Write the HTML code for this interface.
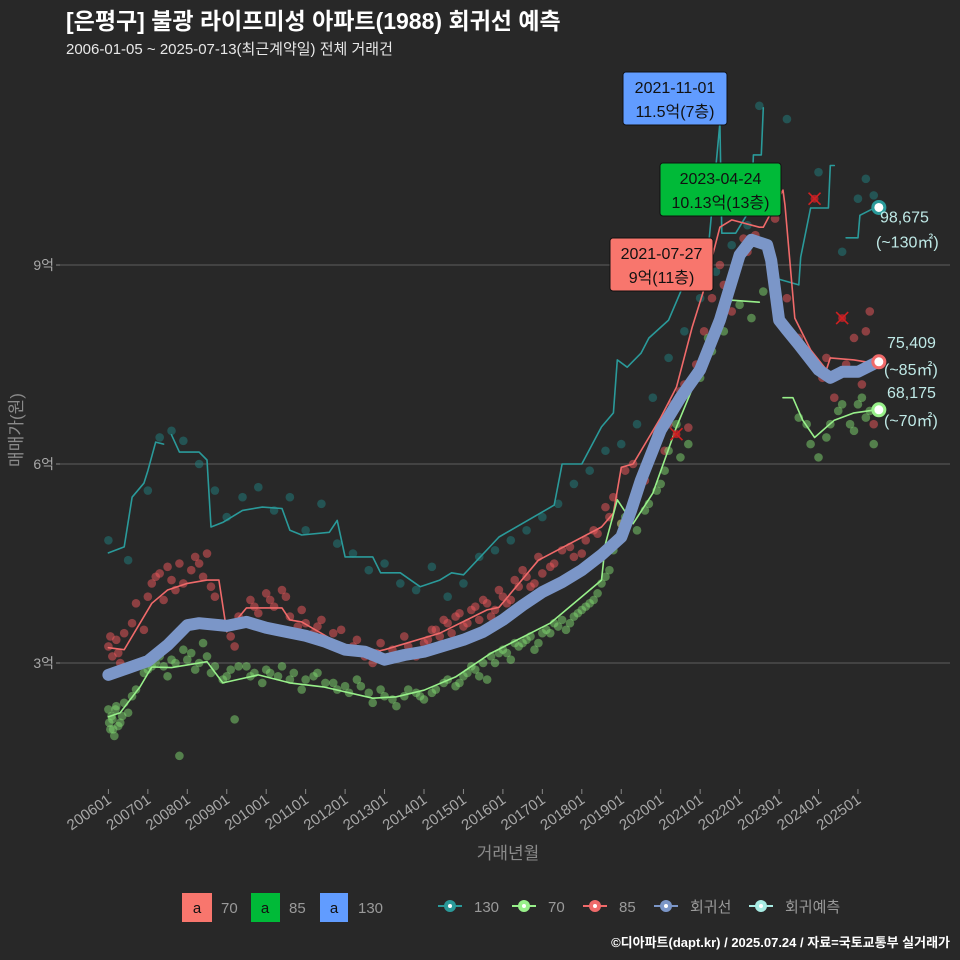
<!DOCTYPE html>
<html><head><meta charset="utf-8">
<style>
html,body{margin:0;padding:0;background:#282828;}
svg{display:block;font-family:"Liberation Sans","Noto Sans CJK KR",sans-serif;}
</style></head>
<body>
<svg id="chart" width="960" height="960" viewBox="0 0 960 960">
<rect x="0" y="0" width="960" height="960" fill="#282828"/>
<text x="66" y="29" font-size="23" font-weight="bold" fill="#ffffff">[은평구] 불광 라이프미성 아파트(1988) 회귀선 예측</text>
<text x="66" y="54" font-size="15" fill="#e8e8e8">2006-01-05 ~ 2025-07-13(최근계약일) 전체 거래건</text>
<g id="grid"></g>
<g id="yaxis"></g>
<g id="xaxis"></g>
<g id="points"></g>
<g id="lines"></g>
<g id="marks"></g>
<text transform="translate(22,430) rotate(-90)" text-anchor="middle" font-size="17" fill="#8a8a8a">매매가(원)</text>
<text x="508" y="859" text-anchor="middle" font-size="17" fill="#8a8a8a">거래년월</text>
<g font-size="15" fill="#9a9a9a">
 <rect x="182" y="893" width="30" height="29" fill="#f8766d"/>
 <text x="197" y="913" text-anchor="middle" fill="#111">a</text>
 <text x="221" y="913">70</text>
 <rect x="251" y="893" width="29" height="29" fill="#00ba38"/>
 <text x="265" y="913" text-anchor="middle" fill="#111">a</text>
 <text x="289" y="913">85</text>
 <rect x="320" y="893" width="28" height="29" fill="#619cff"/>
 <text x="334" y="913" text-anchor="middle" fill="#111">a</text>
 <text x="358" y="913">130</text>
</g>
<g id="legend2" font-size="15" fill="#9a9a9a"></g>
<text x="950" y="947" text-anchor="end" font-size="13" font-weight="bold" fill="#ffffff">©디아파트(dapt.kr) / 2025.07.24 / 자료=국토교통부 실거래가</text>
</svg>
<script>
// ---- data (year as decimal, value in 억) ----
const xTickLabels = ["200601","200701","200801","200901","201001","201101","201201","201301","201401","201501","201601","201701","201801","201901","202001","202101","202201","202301","202401","202501"];
const yTickValues = [3,6,9];
const yTickLabels = ["3억","6억","9억"];
const regYears = [2006.0,2007.0,2007.5,2008.0,2008.3,2009.0,2009.5,2010.0,2011.0,2011.5,2012.0,2012.5,2013.0,2013.5,2014.0,2015.0,2015.5,2016.0,2016.5,2017.0,2017.5,2018.0,2018.5,2019.0,2019.25,2019.5,2020.0,2020.5,2021.0,2021.5,2022.0,2022.3,2022.7,2022.8,2023.0,2023.2,2023.5,2024.0,2024.3,2024.6,2025.0,2025.5];
const regValues = [2.82,3.03,3.27,3.57,3.6,3.56,3.62,3.53,3.41,3.32,3.2,3.17,3.05,3.12,3.17,3.35,3.47,3.65,3.87,4.07,4.22,4.4,4.63,4.9,5.3,5.76,6.51,7.0,7.42,8.17,9.15,9.38,9.3,9.07,8.17,8.02,7.8,7.42,7.3,7.39,7.39,7.54];
const l85Years = [2006.0,2006.4,2007.1,2007.5,2008.0,2008.5,2008.8,2009.0,2009.5,2010.4,2010.6,2010.9,2012.0,2012.6,2013.0,2014.4,2015.6,2015.9,2016.9,2018.5,2018.8,2019.0,2019.3,2020.0,2020.4,2020.8,2021.07,2021.5,2021.8,2022.5,2022.6,2023.1,2023.15,2023.4,2023.8,2024.2,2024.3,2024.9,2025.4];
const l85Values = [3.23,3.2,3.9,4.1,4.2,4.25,4.25,3.47,3.83,3.83,3.65,3.62,3.24,3.15,3.2,3.45,3.8,3.84,4.55,5.05,5.26,5.95,6.0,6.7,7.16,8.07,8.58,9.57,9.68,9.57,9.57,10.13,9.9,8.2,7.72,7.42,7.6,7.57,7.52];
const l70Years = [2006.0,2006.3,2006.8,2007.1,2007.6,2008.5,2008.9,2009.8,2010.6,2011.45,2012.7,2013.3,2014.0,2014.8,2015.7,2017.2,2018.5,2018.6,2018.9,2019.3,2019.8,2020.4,2021.0,2021.4,2021.8,2022.5];
const l70Values = [2.19,2.25,2.64,2.94,2.93,3.02,2.7,2.82,2.7,2.64,2.47,2.49,2.59,2.79,3.15,3.6,4.25,4.8,5.46,5.1,5.56,6.56,7.42,8.17,8.47,8.44];
const l70bYears = [2023.1,2023.35,2023.6,2023.9,2024.4,2024.9,2025.5];
const l70bValues = [7.0,7.0,6.66,6.4,6.66,6.77,6.82];
const l130aYears = [2006.0,2006.4,2006.6,2006.9,2007.0,2007.2,2007.4];
const l130aValues = [4.66,4.75,5.5,5.71,5.9,6.33,6.3];
const l130bYears = [2007.6,2007.8,2008.3,2008.5,2008.6,2008.9,2009.4,2009.9,2010.4,2010.6,2010.9,2011.6,2011.8,2012.0,2012.7,2012.9,2013.4,2013.9,2014.4,2014.7,2015.0,2015.9,2017.3,2017.5,2018.0,2018.5,2018.8,2018.9,2019.15,2019.5,2019.7,2020.2,2020.6,2021.2,2021.5,2021.55,2021.9,2022.3,2022.35,2022.55,2022.6];
const l130bValues = [6.44,6.18,6.18,6.06,5.05,5.12,5.3,5.35,5.33,5.0,4.93,4.97,5.15,4.6,4.6,4.36,4.36,4.15,4.25,4.36,4.33,4.9,5.38,6.0,6.0,6.56,6.77,7.57,7.46,7.67,7.9,8.17,8.73,9.2,11.14,9.48,9.48,9.87,10.66,10.66,11.37];
const l130cYears = [2022.8,2023.5,2023.55,2023.8,2024.25,2024.3,2024.4];
const l130cValues = [8.82,8.7,9.12,9.86,9.86,10.5,10.5];
const l130dYears = [2024.7,2025.0,2025.05,2025.45];
const l130dValues = [9.41,9.41,9.75,9.87];
const p85Years = [2006.0,2006.1,2006.2,2006.3,2006.4,2006.6,2006.7,2006.9,2007.1,2007.2,2007.4,2007.5,2007.7,2007.8,2007.9,2008.1,2008.2,2008.4,2008.5,2008.7,2009.1,2009.2,2009.4,2009.6,2009.8,2010.0,2010.2,2010.4,2010.6,2010.8,2011.0,2011.2,2011.4,2011.6,2011.9,2012.1,2012.3,2012.5,2012.7,2012.9,2013.2,2013.5,2013.8,2014.1,2014.3,2014.5,2014.7,2014.9,2015.1,2015.3,2015.5,2015.7,2015.9,2016.1,2016.3,2016.5,2016.7,2016.9,2017.2,2017.5,2017.8,2018.1,2018.3,2018.6,2018.8,2019.1,2019.3,2019.6,2019.9,2020.1,2020.3,2020.5,2020.7,2020.9,2021.1,2021.3,2021.5,2021.8,2022.1,2022.4,2022.9,2023.2,2023.5,2023.8,2024.1,2024.4,2024.7,2025.0,2025.2,2025.3,2025.4];
const p85Values = [3.25,3.1,3.35,3.0,3.45,3.6,3.9,3.5,4.2,4.3,3.95,4.45,4.1,4.5,4.2,4.4,4.6,4.3,4.65,4.0,3.4,3.25,3.6,3.95,3.75,4.05,3.85,4.1,3.7,3.55,3.6,3.45,3.65,3.3,3.5,3.2,3.35,3.1,3.0,3.3,3.2,3.4,3.1,3.35,3.5,3.65,3.45,3.75,3.6,3.85,3.95,3.7,4.1,3.9,4.25,4.4,4.15,4.6,4.45,4.7,4.6,4.85,5.0,5.35,5.5,5.9,6.0,5.75,6.45,6.2,6.9,7.1,6.55,7.5,8.0,8.5,9.0,8.3,9.4,9.45,9.7,8.5,7.9,7.6,7.3,7.0,7.5,7.4,8.0,8.3,6.6];
const p85bYears = [2006.05,2006.25,2007.0,2007.3,2007.6,2008.3,2008.6,2009.3,2009.7,2010.1,2010.5,2010.9,2011.3,2011.7,2012.2,2012.8,2013.1,2013.6,2014.0,2014.2,2014.4,2014.6,2014.8,2015.0,2015.2,2015.4,2015.6,2015.8,2016.0,2016.2,2016.4,2016.6,2016.8,2017.0,2017.3,2017.7,2018.0,2018.4,2018.7,2019.0,2019.5,2020.2,2020.6,2021.2,2021.6,2022.2,2023.6,2024.2,2024.9,2025.1];
const p85bValues = [3.4,3.15,4.0,4.35,4.25,4.5,4.15,3.7,3.85,3.95,4.0,3.8,3.55,3.45,3.25,3.15,3.05,3.25,3.3,3.5,3.4,3.6,3.7,3.55,3.8,3.65,3.9,3.8,4.0,3.95,4.15,4.3,4.2,4.35,4.5,4.75,4.65,4.95,5.2,5.1,5.7,6.6,7.2,7.7,8.7,9.2,7.7,7.6,7.9,7.2];
const p70Years = [2006.0,2006.05,2006.1,2006.15,2006.2,2006.3,2006.4,2006.5,2006.7,2006.9,2007.1,2007.3,2007.5,2007.7,2007.9,2008.0,2008.2,2008.4,2008.5,2008.6,2008.9,2009.1,2009.3,2009.6,2009.9,2010.1,2010.4,2010.6,2010.9,2011.2,2011.5,2011.8,2012.1,2012.4,2012.7,2013.0,2013.3,2013.6,2013.9,2014.2,2014.5,2014.8,2015.0,2015.3,2015.6,2015.9,2016.2,2016.5,2016.8,2017.0,2017.3,2017.6,2017.9,2018.2,2018.5,2018.7,2019.0,2019.3,2019.6,2019.9,2020.1,2020.4,2020.7,2021.0,2021.3,2021.6,2022.0,2022.3,2022.6,2023.5,2023.8,2024.0,2024.3,2024.6,2024.9,2025.1,2025.3,2025.4,2007.8,2009.2];
const p70Values = [2.3,2.0,2.15,1.9,2.35,2.1,2.4,2.25,2.6,2.85,2.95,3.1,2.8,3.0,3.2,3.05,2.9,3.3,3.1,2.85,2.75,2.9,2.95,2.8,2.7,2.85,2.95,2.75,2.6,2.8,2.7,2.6,2.55,2.65,2.4,2.5,2.35,2.6,2.5,2.55,2.7,2.65,2.8,2.9,2.75,3.15,3.05,3.3,3.2,3.45,3.6,3.5,3.75,3.9,4.2,4.4,5.1,5.4,5.3,5.6,5.9,6.6,6.3,7.3,7.7,8.0,8.4,8.2,8.6,6.7,6.3,6.1,6.6,6.9,6.5,7.0,6.8,6.3,1.6,2.15];
const p70bYears = [2006.02,2006.08,2006.12,2006.18,2006.25,2006.35,2006.6,2007.0,2007.2,2007.4,2007.6,2008.1,2008.3,2008.7,2009.0,2009.5,2009.7,2010.0,2010.3,2010.7,2011.0,2011.3,2011.7,2012.0,2012.3,2012.6,2012.9,2013.2,2013.5,2013.8,2014.0,2014.3,2014.6,2014.9,2015.1,2015.2,2015.4,2015.5,2015.7,2015.8,2016.0,2016.1,2016.3,2016.4,2016.6,2016.7,2016.9,2017.1,2017.2,2017.4,2017.5,2017.7,2017.8,2018.0,2018.1,2018.3,2018.4,2018.6,2018.8,2019.1,2019.4,2019.7,2020.0,2020.2,2020.5,2021.2,2023.7,2024.2,2024.5,2024.8,2025.0,2025.2];
const p70bValues = [2.1,2.2,2.0,2.3,2.05,2.2,2.5,2.9,3.0,2.95,3.05,3.15,3.0,2.95,2.8,2.95,2.85,2.9,2.8,2.85,2.75,2.85,2.7,2.65,2.75,2.55,2.6,2.45,2.5,2.55,2.45,2.6,2.75,2.7,2.85,2.95,2.8,3.0,3.1,3.0,3.2,3.15,3.3,3.25,3.35,3.4,3.3,3.5,3.45,3.55,3.65,3.6,3.7,3.8,3.85,3.95,4.05,4.3,4.7,5.2,5.0,5.4,5.7,6.2,6.1,7.9,6.6,6.4,6.8,6.6,6.9,6.7];
const p130Years = [2006.0,2006.5,2007.0,2007.3,2007.6,2007.9,2008.3,2008.7,2009.0,2009.4,2009.8,2010.2,2010.6,2011.0,2011.4,2011.8,2012.2,2012.6,2013.0,2013.4,2013.8,2014.2,2014.6,2015.0,2015.4,2015.8,2016.2,2016.6,2017.0,2017.4,2017.8,2018.2,2018.6,2019.0,2019.4,2019.8,2020.2,2020.6,2021.0,2021.4,2021.8,2022.2,2022.5,2023.2,2024.0,2024.6,2025.0,2025.2,2025.4];
const p130Values = [4.85,4.55,5.6,6.4,6.5,6.35,6.0,5.6,5.2,5.5,5.65,5.3,5.5,5.0,5.4,4.8,4.65,4.4,4.5,4.2,4.1,4.45,4.0,4.2,4.6,4.7,4.85,5.0,5.2,5.4,5.7,5.9,6.2,6.3,6.6,7.0,7.6,8.0,8.5,8.9,9.3,9.6,11.4,11.2,10.4,9.2,10.0,10.3,10.05];
const endValues = [9.8675,7.5409,6.8175];
const endLabels = ["98,675","75,409","68,175"];
const endSizes = ["(~130㎡)","(~85㎡)","(~70㎡)"];

// ---- scales ----
const X0 = 108.4, XS = 39.45, Y3 = 663, YS = 66.33;
function xs(yr){ return X0 + (yr - 2006) * XS; }
function ys(v){ return Y3 - (v - 3) * YS; }
const NS = "http://www.w3.org/2000/svg";
function mk(tag, attrs, parent){ const e = document.createElementNS(NS, tag); for (const k in attrs) e.setAttribute(k, attrs[k]); parent.appendChild(e); return e; }

const grid = document.getElementById('grid');
const yax = document.getElementById('yaxis');
yTickValues.forEach((v,i)=>{
  const l = mk('line',{x1:60,x2:950,y1:ys(v),y2:ys(v),stroke:'#5e5e5e','stroke-width':1},grid);
  
  
  const t = mk('line',{x1:56,x2:60,y1:ys(v),y2:ys(v),stroke:'#888'},yax);
  
  
  const tx = mk('text',{x:54,y:ys(v)+5,'text-anchor':'end','font-size':14,fill:'#a8a8a8'},yax);
  tx.textContent = yTickLabels[i];
  
  
});
const xax = document.getElementById('xaxis');
xTickLabels.forEach((lab,i)=>{
  const x = xs(2006+i);
  const t = mk('line',{x1:x,x2:x,y1:789,y2:794,stroke:'#888'},xax);
  
  
  const tx = mk('text',{transform:`translate(${x+4},${802}) rotate(-35)`,'text-anchor':'end','font-size':15,fill:'#a8a8a8'},xax);
  tx.textContent = lab;
  
  
});

// scatter
const pts = document.getElementById('points');
function scatter(years, vals, col, name){
  years.forEach((yr,i)=>{
    const c = mk('circle',{cx:xs(yr),cy:ys(vals[i]),r:4.3,fill:col,'fill-opacity':0.5},pts);
    
    
  });
}
scatter(p130Years,p130Values,'#1f8080','point-130');
scatter(p85Years,p85Values,'#f0585c','point-85');
scatter(p85bYears,p85bValues,'#f0585c','point-85');
scatter(p70Years,p70Values,'#80d870','point-70');
scatter(p70bYears,p70bValues,'#80d870','point-70');

const lines = document.getElementById('lines');
function path(years, vals, col, w, name, op){
  const d = years.map((yr,i)=>(i?'L':'M')+xs(yr).toFixed(1)+','+ys(vals[i]).toFixed(1)).join('');
  const p = mk('path',{d:d,fill:'none',stroke:col,'stroke-width':w,'stroke-linejoin':'round','stroke-linecap':'round','stroke-opacity':op||1},lines);
  
  
}
path(l130aYears,l130aValues,'#2a9a9a',1.6,'line-130');
path(l130bYears,l130bValues,'#2a9a9a',1.6,'line-130');
path(l130cYears,l130cValues,'#2a9a9a',1.6,'line-130');
path(l130dYears,l130dValues,'#2a9a9a',1.6,'line-130');
path(l85Years,l85Values,'#f06a6a',1.6,'line-85');
path(l70Years,l70Values,'#98f08a',1.6,'line-70');
path(l70bYears,l70bValues,'#98f08a',1.6,'line-70');
path(regYears,regValues,'#7b96c8',12,'regression-line');

const marks = document.getElementById('marks');
[[2023.9,10.0],[2024.6,8.2],[2020.4,6.45]].forEach(p=>{
  const g = mk('g',{},marks);
  
  
  const x=xs(p[0]), y=ys(p[1]);
  mk('circle',{cx:x,cy:y,r:4,fill:'#c0202a','fill-opacity':0.8},g);
  mk('path',{d:`M${x-6},${y-6}L${x+6},${y+6}M${x-6},${y+6}L${x+6},${y-6}`,stroke:'#d02020','stroke-width':1.6},g);
});
const endCols = ['#2a9a9a','#f06a6a','#98f08a'];
const endDy = [[15,40],[-14,13],[-12,16]];
endValues.forEach((v,i)=>{
  const x = xs(2025.53), y = ys(v);
  const c = mk('circle',{cx:x,cy:y,r:6,fill:'#fff',stroke:endCols[i],'stroke-width':3},marks);
  
  
  const t1 = mk('text',{x: i==0?880:887, y:y+endDy[i][0],'font-size':16,fill:'#bfe9e6'},marks);
  t1.textContent = endLabels[i];
  
  
  const t2 = mk('text',{x: i==0?876:884, y:y+endDy[i][1],'font-size':16,fill:'#bfe9e6'},marks);
  t2.textContent = endSizes[i];
  
  
});
[[623,72,104,53,'#619cff','2021-11-01','11.5억(7층)','max-label-130'],
 [660,163,121,53,'#00ba38','2023-04-24','10.13억(13층)','max-label-85'],
 [610,238,103,53,'#f8766d','2021-07-27','9억(11층)','max-label-70']].forEach(b=>{
  const g = mk('g',{},marks);
  
  
  mk('rect',{x:b[0],y:b[1],width:b[2],height:b[3],rx:3,fill:b[4],stroke:'#111','stroke-width':1},g);
  const t1 = mk('text',{x:b[0]+b[2]/2,y:b[1]+21,'text-anchor':'middle','font-size':16,fill:'#111'},g);
  t1.textContent = b[5];
  const t2 = mk('text',{x:b[0]+b[2]/2,y:b[1]+45,'text-anchor':'middle','font-size':16,fill:'#111'},g);
  t2.textContent = b[6];
});
const leg = document.getElementById('legend2');
[[450,'#2a9a9a','130'],[524,'#98f08a','70'],[595,'#f06a6a','85'],[666,'#7b96c8','회귀선'],[761,'#a8ece4','회귀예측']].forEach(l=>{
  const g = mk('g',{},leg);
  
  
  mk('line',{x1:l[0]-12,x2:l[0]+12,y1:906,y2:906,stroke:l[1],'stroke-width':2},g);
  mk('circle',{cx:l[0],cy:906,r:6,fill:l[1]},g);
  mk('circle',{cx:l[0],cy:906,r:2,fill:'#fff'},g);
  const t = mk('text',{x:l[0]+24,y:912,fill:'#9a9a9a'},g);
  t.textContent = l[2];
});
</script>
</body></html>
